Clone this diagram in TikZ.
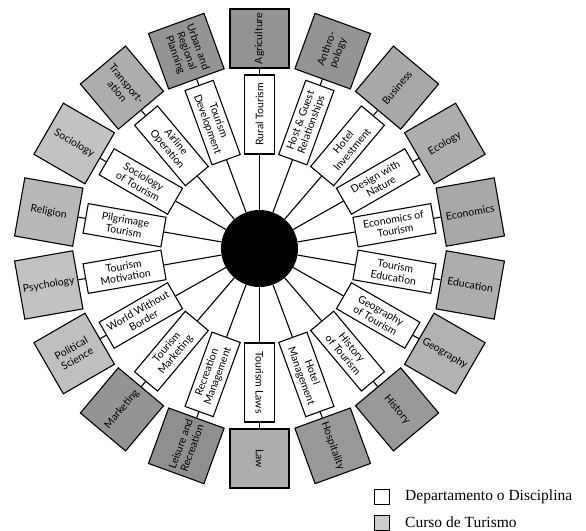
\documentclass[tikz,border=0pt]{standalone}
\usepackage{fontspec}
\setmainfont{Lato}
\newfontfamily\legfont{Liberation Serif}
\begin{document}
\begin{tikzpicture}[x=1pt,y=1pt,
  course/.style={draw, line width=1.1pt, fill=white, minimum width=79pt,
    minimum height=30pt, inner sep=1pt, align=center,
    font=\fontsize{10.5}{11.5}\selectfont},
  field/.style={draw, line width=1.1pt, minimum width=59pt, minimum height=59pt,
    inner sep=1pt, align=center, font=\fontsize{10.5}{12}\selectfont},
  link/.style={line width=1.1pt},
  legbox/.style={draw, line width=0.8pt, minimum width=15pt, minimum height=15pt, inner sep=0pt},
  legtext/.style={anchor=west, inner sep=0pt, font=\legfont\fontsize{15.5}{17}\selectfont}]
\useasboundingbox (0,0) rectangle (586,530);

% wheel: hub, ring of tourism courses, outer ring of disciplines
\begin{scope}[shift={(259.5,281.5)}]
  \node[circle, fill=black, minimum size=77pt, inner sep=0pt] (hub) at (0,0) {};
  \foreach \a/\inn/\out/\g [count=\i] in {
      90/{Rural Tourism}/{Agriculture}/42,
      70/{Host \& Guest\\Relationships}/{Anthro-\\pology}/42,
      50/{Hotel\\Investment}/{Business}/34,
      30/{Design with\\Nature}/{Ecology}/32,
      10/{Economics of\\Tourism}/{Economics}/34,
      -10/{Tourism\\Education}/{Education}/32,
      -30/{Geography\\of Tourism}/{Geography}/30,
      -50/{History\\of Tourism}/{History}/40,
      -70/{Hotel\\Management}/{Hospitality}/40,
      -90/{Tourism Laws}/{Law}/32,
      -110/{Recreation\\Management}/{Leisure and\\Recreation}/44,
      -130/{Tourism\\Marketing}/{Marketing}/42,
      -150/{World Without\\Border}/{Political\\Science}/25,
      -170/{Tourism\\Motivation}/{Psychology}/24,
      -190/{Pilgrimage\\Tourism}/{Religion}/28,
      -210/{Sociology\\of Tourism}/{Sociology}/24,
      -230/{Airline\\Operation}/{Transport-\\ation}/32,
      -250/{Tourism\\Development}/{Urban and\\Regional\\Planning}/42}{
    \pgfmathsetmacro\rot{\a < -91 ? \a+180 : \a}
    \node[course, rotate=\rot] (c\i) at (\a:137 and 134) {\inn};
    \node[field, fill=black!\g, rotate=\rot] (d\i) at (\a:214 and 210) {\out};
    \draw[link] (hub) -- (c\i);
    \draw[link] (c\i) -- (d\i);
  }
\end{scope}

% legend
\node[legbox, fill=white] (kw) at (382,33.5) {};
\node[legbox, fill=black!20] (kg) at (382,7.5) {};
\node[legtext] (tw) at (405,33.5) {Departamento o Disciplina};
\node[legtext] (tg) at (405,7.5) {Curso de Turismo};
\end{tikzpicture}
\end{document}
